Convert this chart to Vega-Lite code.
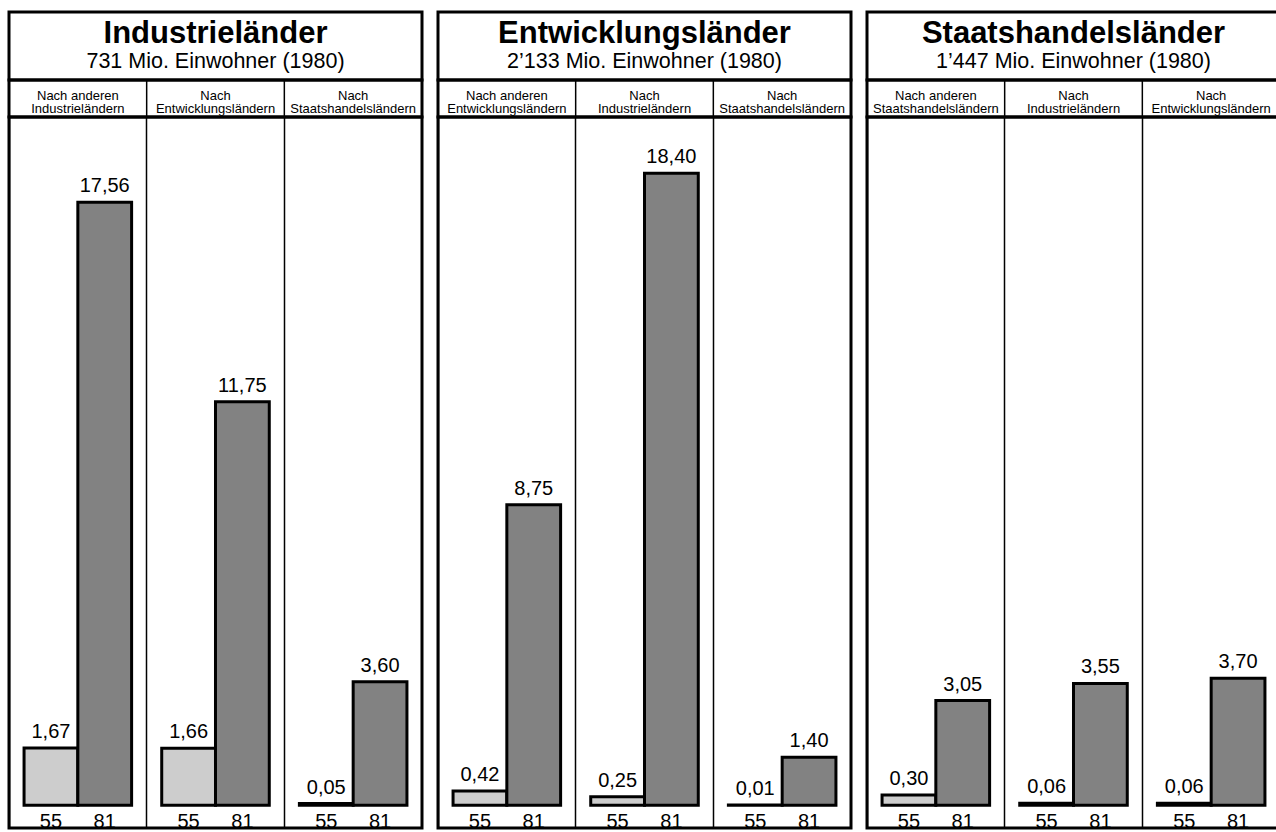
{
  "$schema": "https://vega.github.io/schema/vega-lite/v6.json",
  "background": "white",
  "padding": {"left": 6, "top": 10, "right": 0, "bottom": 0},
  "spacing": 11,
  "config": {
    "font": "Liberation Sans",
    "view": {"stroke": "black", "strokeWidth": 3},
    "text": {"font": "Liberation Sans", "color": "black"},
    "locale": {"number": {"decimal": ",", "thousands": "'", "grouping": [3], "currency": ["", ""]}}
  },
  "datasets": {
    "gruppen": [
      {"gruppe": "Industrieländer", "einwohner": "731 Mio. Einwohner (1980)"},
      {"gruppe": "Entwicklungsländer", "einwohner": "2’133 Mio. Einwohner (1980)"},
      {"gruppe": "Staatshandelsländer", "einwohner": "1’447 Mio. Einwohner (1980)"}
    ],
    "werte": [
      {"gruppe": "Industrieländer", "ziel": "Nach anderen\nIndustrieländern", "jahr": "55", "wert": 1.67},
      {"gruppe": "Industrieländer", "ziel": "Nach anderen\nIndustrieländern", "jahr": "81", "wert": 17.56},
      {"gruppe": "Industrieländer", "ziel": "Nach\nEntwicklungsländern", "jahr": "55", "wert": 1.66},
      {"gruppe": "Industrieländer", "ziel": "Nach\nEntwicklungsländern", "jahr": "81", "wert": 11.75},
      {"gruppe": "Industrieländer", "ziel": "Nach\nStaatshandelsländern", "jahr": "55", "wert": 0.05},
      {"gruppe": "Industrieländer", "ziel": "Nach\nStaatshandelsländern", "jahr": "81", "wert": 3.60},
      {"gruppe": "Entwicklungsländer", "ziel": "Nach anderen\nEntwicklungsländern", "jahr": "55", "wert": 0.42},
      {"gruppe": "Entwicklungsländer", "ziel": "Nach anderen\nEntwicklungsländern", "jahr": "81", "wert": 8.75},
      {"gruppe": "Entwicklungsländer", "ziel": "Nach\nIndustrieländern", "jahr": "55", "wert": 0.25},
      {"gruppe": "Entwicklungsländer", "ziel": "Nach\nIndustrieländern", "jahr": "81", "wert": 18.40},
      {"gruppe": "Entwicklungsländer", "ziel": "Nach\nStaatshandelsländern", "jahr": "55", "wert": 0.01},
      {"gruppe": "Entwicklungsländer", "ziel": "Nach\nStaatshandelsländern", "jahr": "81", "wert": 1.40},
      {"gruppe": "Staatshandelsländer", "ziel": "Nach anderen\nStaatshandelsländern", "jahr": "55", "wert": 0.30},
      {"gruppe": "Staatshandelsländer", "ziel": "Nach anderen\nStaatshandelsländern", "jahr": "81", "wert": 3.05},
      {"gruppe": "Staatshandelsländer", "ziel": "Nach\nIndustrieländern", "jahr": "55", "wert": 0.06},
      {"gruppe": "Staatshandelsländer", "ziel": "Nach\nIndustrieländern", "jahr": "81", "wert": 3.55},
      {"gruppe": "Staatshandelsländer", "ziel": "Nach\nEntwicklungsländern", "jahr": "55", "wert": 0.06},
      {"gruppe": "Staatshandelsländer", "ziel": "Nach\nEntwicklungsländern", "jahr": "81", "wert": 3.70}
    ]
  },
  "hconcat": [
    {
      "spacing": 0,
      "bounds": "flush",
      "vconcat": [
        {
          "width": 413, "height": 68,
          "data": {"name": "gruppen"},
          "transform": [{"filter": "datum.gruppe === 'Industrieländer'"}],
          "encoding": {"x": {"field": "gruppe", "type": "nominal", "axis": null, "scale": {"paddingInner": 0, "paddingOuter": 0}}},
          "layer": [
            {"mark": {"type": "text", "fontSize": 31, "fontWeight": "bold", "dy": -12}, "encoding": {"text": {"field": "gruppe"}}},
            {"mark": {"type": "text", "fontSize": 21.5, "dy": 16}, "encoding": {"text": {"field": "einwohner"}}}
          ]
        },
        {
          "width": 413, "height": 37,
          "data": {"name": "werte"},
          "transform": [{"filter": "datum.gruppe === 'Industrieländer' && datum.jahr === '55'"}],
          "encoding": {
            "x": {"field": "ziel", "type": "nominal", "sort": ["Nach anderen\nIndustrieländern", "Nach\nEntwicklungsländern", "Nach\nStaatshandelsländern"], "scale": {"paddingInner": 0, "paddingOuter": 0}, "axis": null}
          },
          "layer": [
            {"mark": {"type": "text", "fontSize": 13, "lineBreak": "\n", "lineHeight": 13.5, "dy": -3}, "encoding": {"text": {"field": "ziel"}}},
            {"mark": {"type": "rule", "color": "black", "strokeWidth": 1.5}, "encoding": {"x": {"field": "ziel", "type": "nominal", "sort": ["Nach anderen\nIndustrieländern", "Nach\nEntwicklungsländern", "Nach\nStaatshandelsländern"], "bandPosition": 0}}}
          ]
        },
        {
          "width": 413, "height": 711,
          "data": {"name": "werte"},
          "transform": [{"filter": "datum.gruppe === 'Industrieländer'"}],
          "encoding": {
            "x": {"field": "ziel", "type": "nominal", "sort": ["Nach anderen\nIndustrieländern", "Nach\nEntwicklungsländern", "Nach\nStaatshandelsländern"], "scale": {"paddingInner": 0, "paddingOuter": 0}, "axis": {"title": null, "labels": false, "ticks": false, "domain": false, "grid": true, "gridColor": "black", "gridWidth": 1.5, "gridOpacity": 1, "bandPosition": 0}},
            "xOffset": {"field": "jahr", "type": "nominal", "sort": ["55", "81"], "scale": {"paddingInner": 0, "paddingOuter": 0.28}}
          },
          "layer": [
            {"mark": {"type": "bar", "stroke": "black", "strokeWidth": 3},
             "encoding": {
               "y": {"field": "wert", "type": "quantitative", "scale": {"domain": [-0.66, 20.04], "nice": false}, "axis": null},
               "fill": {"field": "jahr", "type": "nominal", "scale": {"domain": ["55", "81"], "range": ["#cdcdcd", "#828282"]}, "legend": null}
             }},
            {"mark": {"type": "text", "fontSize": 20, "baseline": "bottom", "dy": -6},
             "encoding": {"y": {"field": "wert", "type": "quantitative"}, "text": {"field": "wert", "type": "quantitative", "format": ".2f"}}},
            {"mark": {"type": "text", "fontSize": 20, "baseline": "top", "dy": 7},
             "encoding": {"y": {"datum": 0, "type": "quantitative"}, "text": {"field": "jahr"}}}
          ]
        }
      ]
    },
    {
      "spacing": 0,
      "bounds": "flush",
      "vconcat": [
        {
          "width": 413, "height": 68,
          "data": {"name": "gruppen"},
          "transform": [{"filter": "datum.gruppe === 'Entwicklungsländer'"}],
          "encoding": {"x": {"field": "gruppe", "type": "nominal", "axis": null, "scale": {"paddingInner": 0, "paddingOuter": 0}}},
          "layer": [
            {"mark": {"type": "text", "fontSize": 31, "fontWeight": "bold", "dy": -12}, "encoding": {"text": {"field": "gruppe"}}},
            {"mark": {"type": "text", "fontSize": 21.5, "dy": 16}, "encoding": {"text": {"field": "einwohner"}}}
          ]
        },
        {
          "width": 413, "height": 37,
          "data": {"name": "werte"},
          "transform": [{"filter": "datum.gruppe === 'Entwicklungsländer' && datum.jahr === '55'"}],
          "encoding": {
            "x": {"field": "ziel", "type": "nominal", "sort": ["Nach anderen\nEntwicklungsländern", "Nach\nIndustrieländern", "Nach\nStaatshandelsländern"], "scale": {"paddingInner": 0, "paddingOuter": 0}, "axis": null}
          },
          "layer": [
            {"mark": {"type": "text", "fontSize": 13, "lineBreak": "\n", "lineHeight": 13.5, "dy": -3}, "encoding": {"text": {"field": "ziel"}}},
            {"mark": {"type": "rule", "color": "black", "strokeWidth": 1.5}, "encoding": {"x": {"field": "ziel", "type": "nominal", "sort": ["Nach anderen\nEntwicklungsländern", "Nach\nIndustrieländern", "Nach\nStaatshandelsländern"], "bandPosition": 0}}}
          ]
        },
        {
          "width": 413, "height": 711,
          "data": {"name": "werte"},
          "transform": [{"filter": "datum.gruppe === 'Entwicklungsländer'"}],
          "encoding": {
            "x": {"field": "ziel", "type": "nominal", "sort": ["Nach anderen\nEntwicklungsländern", "Nach\nIndustrieländern", "Nach\nStaatshandelsländern"], "scale": {"paddingInner": 0, "paddingOuter": 0}, "axis": {"title": null, "labels": false, "ticks": false, "domain": false, "grid": true, "gridColor": "black", "gridWidth": 1.5, "gridOpacity": 1, "bandPosition": 0}},
            "xOffset": {"field": "jahr", "type": "nominal", "sort": ["55", "81"], "scale": {"paddingInner": 0, "paddingOuter": 0.28}}
          },
          "layer": [
            {"mark": {"type": "bar", "stroke": "black", "strokeWidth": 3},
             "encoding": {
               "y": {"field": "wert", "type": "quantitative", "scale": {"domain": [-0.66, 20.04], "nice": false}, "axis": null},
               "fill": {"field": "jahr", "type": "nominal", "scale": {"domain": ["55", "81"], "range": ["#cdcdcd", "#828282"]}, "legend": null}
             }},
            {"mark": {"type": "text", "fontSize": 20, "baseline": "bottom", "dy": -6},
             "encoding": {"y": {"field": "wert", "type": "quantitative"}, "text": {"field": "wert", "type": "quantitative", "format": ".2f"}}},
            {"mark": {"type": "text", "fontSize": 20, "baseline": "top", "dy": 7},
             "encoding": {"y": {"datum": 0, "type": "quantitative"}, "text": {"field": "jahr"}}}
          ]
        }
      ]
    },
    {
      "spacing": 0,
      "bounds": "flush",
      "vconcat": [
        {
          "width": 413, "height": 68,
          "data": {"name": "gruppen"},
          "transform": [{"filter": "datum.gruppe === 'Staatshandelsländer'"}],
          "encoding": {"x": {"field": "gruppe", "type": "nominal", "axis": null, "scale": {"paddingInner": 0, "paddingOuter": 0}}},
          "layer": [
            {"mark": {"type": "text", "fontSize": 31, "fontWeight": "bold", "dy": -12}, "encoding": {"text": {"field": "gruppe"}}},
            {"mark": {"type": "text", "fontSize": 21.5, "dy": 16}, "encoding": {"text": {"field": "einwohner"}}}
          ]
        },
        {
          "width": 413, "height": 37,
          "data": {"name": "werte"},
          "transform": [{"filter": "datum.gruppe === 'Staatshandelsländer' && datum.jahr === '55'"}],
          "encoding": {
            "x": {"field": "ziel", "type": "nominal", "sort": ["Nach anderen\nStaatshandelsländern", "Nach\nIndustrieländern", "Nach\nEntwicklungsländern"], "scale": {"paddingInner": 0, "paddingOuter": 0}, "axis": null}
          },
          "layer": [
            {"mark": {"type": "text", "fontSize": 13, "lineBreak": "\n", "lineHeight": 13.5, "dy": -3}, "encoding": {"text": {"field": "ziel"}}},
            {"mark": {"type": "rule", "color": "black", "strokeWidth": 1.5}, "encoding": {"x": {"field": "ziel", "type": "nominal", "sort": ["Nach anderen\nStaatshandelsländern", "Nach\nIndustrieländern", "Nach\nEntwicklungsländern"], "bandPosition": 0}}}
          ]
        },
        {
          "width": 413, "height": 711,
          "data": {"name": "werte"},
          "transform": [{"filter": "datum.gruppe === 'Staatshandelsländer'"}],
          "encoding": {
            "x": {"field": "ziel", "type": "nominal", "sort": ["Nach anderen\nStaatshandelsländern", "Nach\nIndustrieländern", "Nach\nEntwicklungsländern"], "scale": {"paddingInner": 0, "paddingOuter": 0}, "axis": {"title": null, "labels": false, "ticks": false, "domain": false, "grid": true, "gridColor": "black", "gridWidth": 1.5, "gridOpacity": 1, "bandPosition": 0}},
            "xOffset": {"field": "jahr", "type": "nominal", "sort": ["55", "81"], "scale": {"paddingInner": 0, "paddingOuter": 0.28}}
          },
          "layer": [
            {"mark": {"type": "bar", "stroke": "black", "strokeWidth": 3},
             "encoding": {
               "y": {"field": "wert", "type": "quantitative", "scale": {"domain": [-0.66, 20.04], "nice": false}, "axis": null},
               "fill": {"field": "jahr", "type": "nominal", "scale": {"domain": ["55", "81"], "range": ["#cdcdcd", "#828282"]}, "legend": null}
             }},
            {"mark": {"type": "text", "fontSize": 20, "baseline": "bottom", "dy": -6},
             "encoding": {"y": {"field": "wert", "type": "quantitative"}, "text": {"field": "wert", "type": "quantitative", "format": ".2f"}}},
            {"mark": {"type": "text", "fontSize": 20, "baseline": "top", "dy": 7},
             "encoding": {"y": {"datum": 0, "type": "quantitative"}, "text": {"field": "jahr"}}}
          ]
        }
      ]
    }
  ]
}
